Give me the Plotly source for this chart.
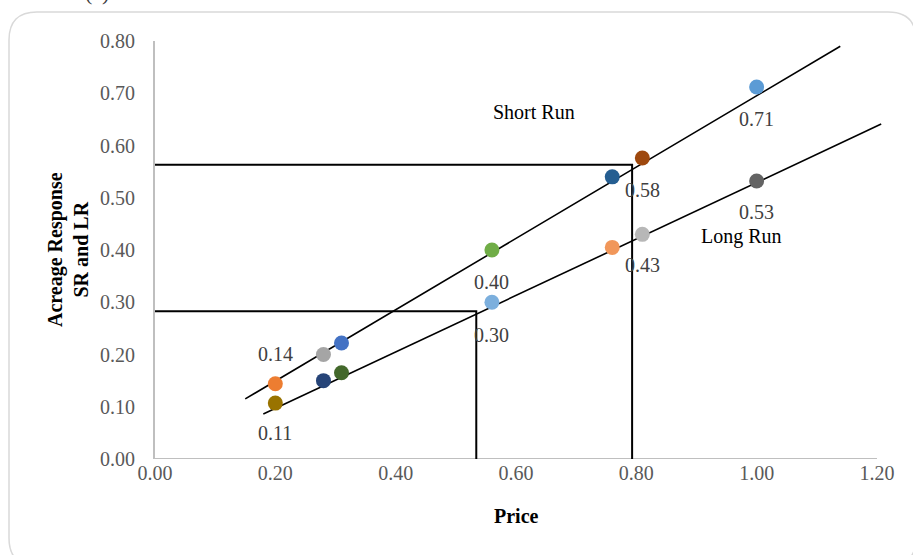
import plotly.graph_objects as go

# ---- data ----
sr_price = [0.20, 0.28, 0.31, 0.56, 0.76, 0.81, 1.00]
sr_resp = [0.144, 0.200, 0.222, 0.400, 0.540, 0.576, 0.712]
sr_colors = ["#ED7D31", "#A5A5A5", "#4472C4", "#70AD47", "#255E91", "#9E480E", "#5B9BD5"]

lr_price = [0.20, 0.28, 0.31, 0.56, 0.76, 0.81, 1.00]
lr_resp = [0.107, 0.150, 0.165, 0.300, 0.405, 0.430, 0.532]
lr_colors = ["#997300", "#264478", "#43682B", "#7CAFDD", "#F1975A", "#B7B7B7", "#636363"]

sr_trend_x = [0.15, 1.139]
sr_trend_y = [0.115, 0.790]
lr_trend_x = [0.18, 1.207]
lr_trend_y = [0.086, 0.641]

guide_x = [0.534, 0.793]
guide_y = [0.283, 0.563]

label_x = [1.00, 0.81, 0.56, 0.20, 1.00, 0.81, 0.56, 0.20]
label_y = [0.712, 0.576, 0.400, 0.144, 0.532, 0.430, 0.300, 0.107]
label_text = ["0.71", "0.58", "0.40", "0.14", "0.53", "0.43", "0.30", "0.11"]
label_shift = [-32, -32, -32, 30, -31, -31, -33, -30]

x_ticks = [0.0, 0.2, 0.4, 0.6, 0.8, 1.0, 1.2]
y_ticks = [0.0, 0.1, 0.2, 0.3, 0.4, 0.5, 0.6, 0.7, 0.8]

FONT = "Liberation Serif"
W, H = 913, 555
ML, MR, MT, MB = 155, 30, 41, 96

fig = go.Figure()

# guide lines
for gx, gy in zip(guide_x, guide_y):
    fig.add_trace(go.Scatter(x=[0, gx, gx], y=[gy, gy, 0], mode="lines",
                             line=dict(color="black", width=2), hoverinfo="skip"))

# trend lines
fig.add_trace(go.Scatter(x=sr_trend_x, y=sr_trend_y, mode="lines",
                         line=dict(color="black", width=1.6), hoverinfo="skip"))
fig.add_trace(go.Scatter(x=lr_trend_x, y=lr_trend_y, mode="lines",
                         line=dict(color="black", width=1.6), hoverinfo="skip"))

# points
fig.add_trace(go.Scatter(x=sr_price, y=sr_resp, mode="markers",
                         marker=dict(size=15, color=sr_colors), cliponaxis=False))
fig.add_trace(go.Scatter(x=lr_price, y=lr_resp, mode="markers",
                         marker=dict(size=15, color=lr_colors), cliponaxis=False))

# x axis line (to 1.20 only)
fig.add_shape(type="line", xref="x", yref="y", x0=0, x1=1.2, y0=0, y1=0,
              line=dict(color="#BFBFBF", width=2), layer="below")

annotations = []
for x, y, t, s in zip(label_x, label_y, label_text, label_shift):
    annotations.append(dict(x=x, y=y, xref="x", yref="y", text=t, showarrow=False,
                            xanchor="center", yanchor="middle",
                            yshift=s, font=dict(family=FONT, size=20, color="#404040")))

annotations.append(dict(x=0.63, y=0.665, xref="x", yref="y", text="Short Run", showarrow=False,
                        xanchor="center", yanchor="middle",
                        font=dict(family=FONT, size=20, color="black")))
annotations.append(dict(x=0.975, y=0.426, xref="x", yref="y", text="Long Run", showarrow=False,
                        xanchor="center", yanchor="middle",
                        font=dict(family=FONT, size=20, color="black")))


def px2paper(px, py):
    return ((px - ML) / (W - ML - MR), (H - MB - py) / (H - MT - MB))


# axis titles
xp, yp = px2paper(516, 516)
annotations.append(dict(x=xp, y=yp, xref="paper", yref="paper", text="<b>Price</b>", showarrow=False,
                        xanchor="center", yanchor="middle",
                        font=dict(family=FONT, size=20, color="black")))
xp, yp = px2paper(68, 250)
annotations.append(dict(x=xp, y=yp, xref="paper", yref="paper", textangle=-90,
                        xanchor="center", yanchor="middle",
                        text="<b>Acreage Response<br>SR and LR</b>", showarrow=False,
                        font=dict(family=FONT, size=20, color="black")))
# cut-off panel label
xp, yp = px2paper(97, 7)
annotations.append(dict(x=xp, y=yp, xref="paper", yref="paper", xanchor="center", yanchor="bottom",
                        text="(a)", showarrow=False,
                        font=dict(family=FONT, size=22, color="#404040")))

# rounded border
L, R, T, B, r = 9, 916, 12, 566, 28
pts = [("M", L + r, T), ("L", R - r, T), ("Q", R, T, R, T + r), ("L", R, B - r),
       ("Q", R, B, R - r, B), ("L", L + r, B), ("Q", L, B, L, B - r), ("L", L, T + r),
       ("Q", L, T, L + r, T)]
path = ""
for p in pts:
    cmd = p[0]
    coords = p[1:]
    segs = []
    for i in range(0, len(coords), 2):
        a, b = px2paper(coords[i], coords[i + 1])
        segs.append(f"{a:.5f},{b:.5f}")
    path += cmd + " " + " ".join(segs) + " "
path += "Z"
fig.add_shape(type="path", xref="paper", yref="paper", path=path,
              line=dict(color="#D9D9D9", width=1.5), layer="below")

fig.update_layout(
    width=W, height=H,
    margin=dict(l=ML, r=MR, t=MT, b=MB, pad=0),
    paper_bgcolor="white", plot_bgcolor="white",
    showlegend=False,
    annotations=annotations,
    xaxis=dict(range=[0, 1.21], tickvals=x_ticks, tickformat=".2f", showgrid=False,
               zeroline=False, showline=False, ticks="",
               tickfont=dict(family=FONT, size=20, color="#595959")),
    yaxis=dict(range=[0, 0.80], tickvals=y_ticks, tickformat=".2f", showgrid=False,
               zeroline=False, showline=True, linecolor="#BFBFBF", linewidth=2, ticks="",
               ticklabelstandoff=14,
               tickfont=dict(family=FONT, size=20, color="#595959")),
)

fig.write_html("out.html", config={"displayModeBar": False},
               post_script="document.body.style.margin='0';document.body.style.overflow='hidden';")
